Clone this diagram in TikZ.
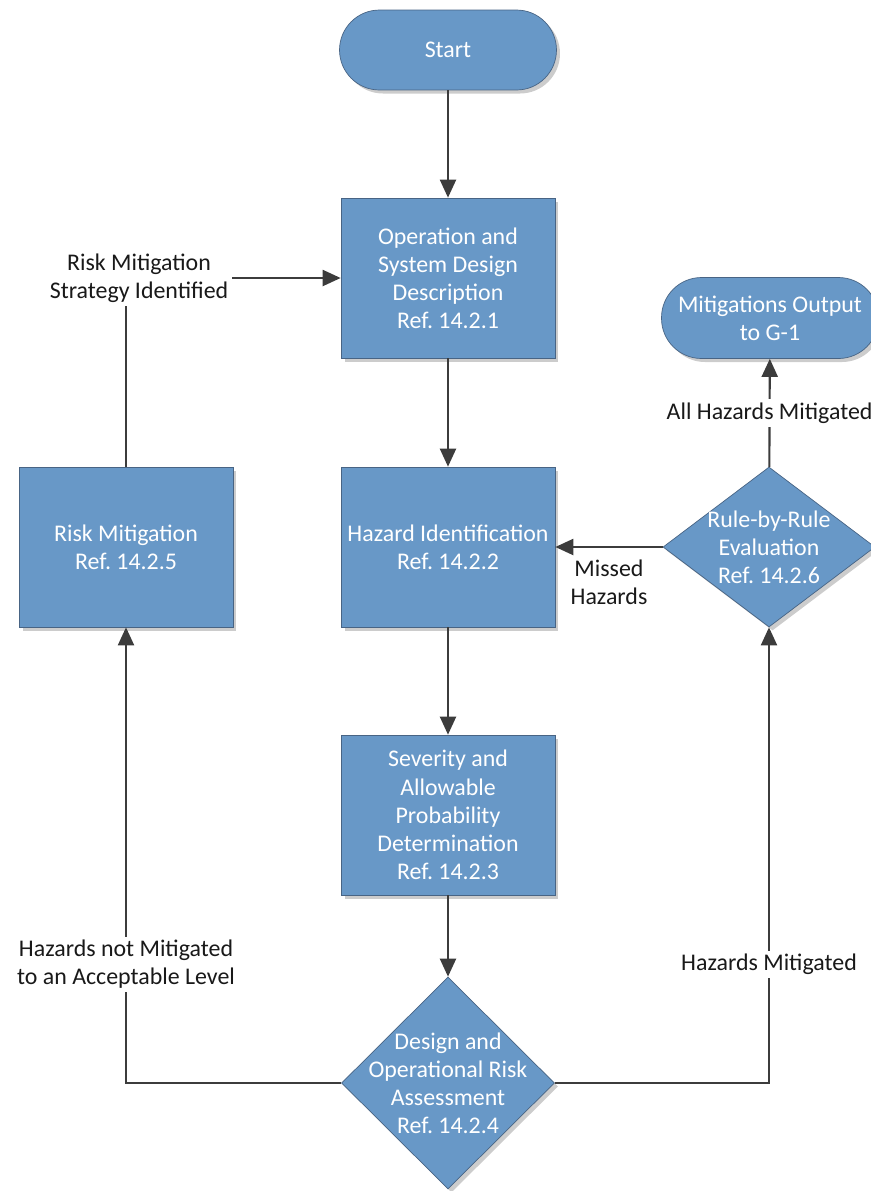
\documentclass[tikz,border=0pt]{standalone}
\usepackage{fontspec}
\setmainfont{Carlito}
\frenchspacing
\usetikzlibrary{shapes.geometric, arrows.meta, positioning, shadows}
\definecolor{boxblue}{RGB}{104, 152, 199}
\definecolor{boxedge}{RGB}{72, 100, 132}
\definecolor{linegray}{RGB}{60, 60, 60}

\begin{document}
\begin{tikzpicture}[
  x=0.02cm, y=-0.02cm,
  font=\fontsize{13.6}{16}\selectfont,
  shade/.style={drop shadow={shadow xshift=2pt, shadow yshift=-2pt, opacity=0.2, fill=black}},
  box/.style={rectangle, draw=boxedge, thin, fill=boxblue, text=white, align=center,
    minimum width=4.28cm, minimum height=3.2cm, inner sep=2pt, shade},
  term/.style={rectangle, rounded corners=0.8cm, draw=boxedge, thin, fill=boxblue, text=white,
    align=center, minimum width=4.34cm, minimum height=1.6cm, shade},
  decision/.style={diamond, draw=boxedge, thin, fill=boxblue, inner sep=0pt,
    minimum width=4.26cm, minimum height=4.24cm, shade},
  intext/.style={text=white, align=center, inner sep=0pt},
  flow/.style={draw=linegray, line width=1.2pt, -{Triangle[length=0.36cm, width=0.32cm]}},
  lbl/.style={fill=white, text=black!90, align=center, inner sep=2pt}
]
  \useasboundingbox (0,0) rectangle (871,1191);

  % Terminals
  \node[term] (start) at (448,50) {Start};
  \node[term, minimum height=1.62cm] (output) at (770,318) {Mitigations Output\\to G-1};

  % Process steps
  \node[box] (osdd) at (448,278) {Operation and\\System Design\\Description\\Ref. 14.2.1};
  \node[box] (hazid) at (448,547) {Hazard Identification\\Ref. 14.2.2};
  \node[box] (sev) at (448,815) {Severity and\\Allowable\\Probability\\Determination\\Ref. 14.2.3};
  \node[box] (riskmit) at (126,547) {Risk Mitigation\\Ref. 14.2.5};

  % Decisions
  \node[decision] (dora) at (448,1083) {};
  \node[intext] (dora-txt) at (dora) {Design and\\Operational Risk\\Assessment\\Ref. 14.2.4};
  \node[decision, minimum width=4.24cm, minimum height=3.2cm] (rbr) at (769,547) {};
  \node[intext] (rbr-txt) at (rbr) {Rule-by-Rule\\Evaluation\\Ref. 14.2.6};

  % Main line
  \draw[flow] (start) -- (osdd);
  \draw[flow] (osdd) -- (hazid);
  \draw[flow] (hazid) -- (sev);
  \draw[flow] (sev) -- (dora);

  % Branches
  \draw[flow] (dora.west) -| (riskmit)
    node[lbl, pos=0.63] (notmit) {Hazards not Mitigated\\to an Acceptable Level};
  \draw[flow] (dora.east) -| (rbr)
    node[lbl, pos=0.63] (mit) {Hazards Mitigated};
  \draw[flow] (riskmit.north) |- (osdd.west)
    node[lbl, pos=0.5, xshift=0.26cm] (strat) {Risk Mitigation\\Strategy Identified};
  \draw[flow] (rbr) -- (hazid)
    node[midway, below=0.12cm, align=center, text=black!90] (missed) {Missed\\Hazards};
  \draw[flow] (rbr) -- (output)
    node[lbl, midway] (allmit) {All Hazards Mitigated};
\end{tikzpicture}
\end{document}
